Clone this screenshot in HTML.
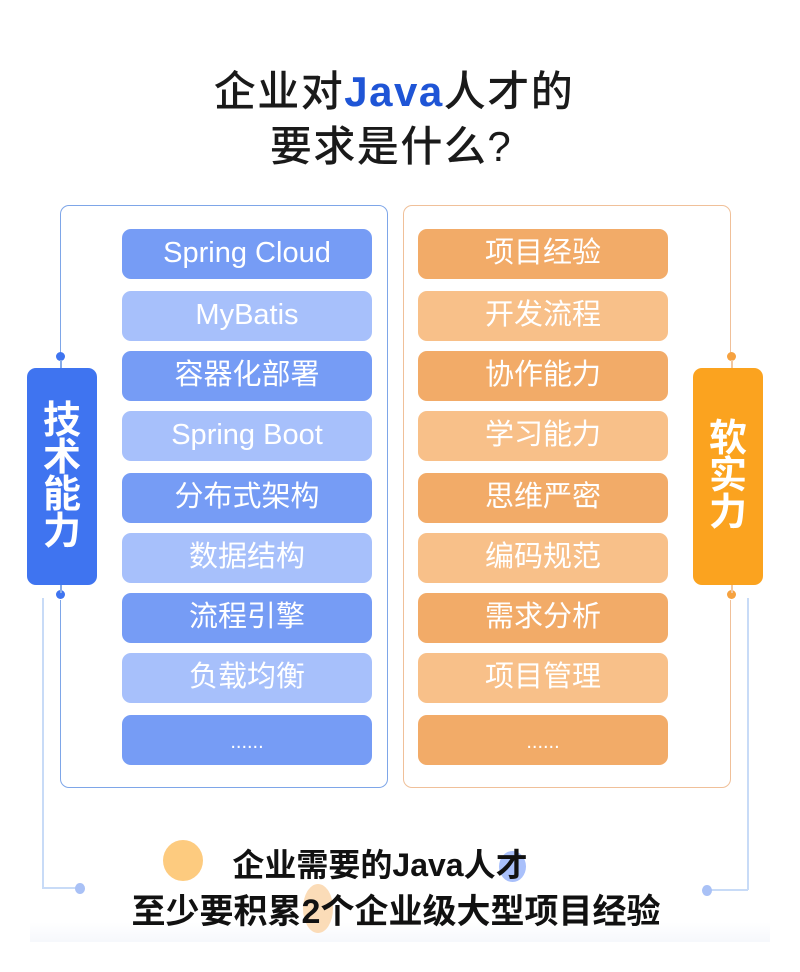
<!DOCTYPE html>
<html><head><meta charset="utf-8"><style>
*{margin:0;padding:0;box-sizing:border-box}
body{width:800px;height:972px;background:#fff;position:relative;overflow:hidden;font-family:"Liberation Sans","Noto Sans CJK SC",sans-serif}
.t{position:absolute;left:0;width:800px;text-align:center;font-size:42px;color:#1a1a1a;font-weight:500;letter-spacing:1.5px}
.box{position:absolute;top:205px;height:583px;width:328px;border:1.5px solid;border-radius:9px}
.p{position:absolute;width:250px;height:50px;border-radius:9px;color:#fff;font-size:29px;text-align:center;line-height:49px}
.lbl{position:absolute;top:368px;width:70px;height:217px;border-radius:9px;color:#fff;font-size:38px;font-weight:bold;text-align:center;display:flex;align-items:center;justify-content:center;line-height:37px}
.dot{position:absolute;width:9px;height:9px;border-radius:50%}
.ln{position:absolute}
.c{position:absolute;border-radius:50%}
</style></head><body>
<div class="t" style="top:58px;left:-6px">企业对<span style="color:#1f55d6;font-weight:bold">Java</span>人才的</div>
<div class="t" style="top:113px;left:-9px">要求是什么?</div>

<div class="box" style="left:60px;border-color:#7ea6e8"></div>
<div class="box" style="left:403px;border-color:#f0c099"></div>

<div class="ln" style="left:42px;top:598px;width:1.5px;height:290px;background:#c8dbf7"></div>
<div class="ln" style="left:42px;top:887px;width:38px;height:1.5px;background:#c8dbf7"></div>
<div class="dot" style="left:75px;top:883px;width:10px;height:11px;background:#a9c1f6"></div>
<div class="ln" style="left:747px;top:598px;width:1.5px;height:292px;background:#c8dbf7"></div>
<div class="ln" style="left:710px;top:889px;width:38px;height:1.5px;background:#c8dbf7"></div>
<div class="dot" style="left:702px;top:885px;width:10px;height:11px;background:#a9c1f6"></div>

<div class="ln" style="left:50px;top:360px;width:20px;height:240px;background:#fff"></div>
<div class="ln" style="left:721px;top:360px;width:20px;height:240px;background:#fff"></div>
<div class="dot" style="left:56px;top:352px;background:#3f74f0"></div>
<div class="dot" style="left:56px;top:590px;background:#3f74f0"></div>
<div class="dot" style="left:727px;top:352px;background:#f6a240"></div>
<div class="dot" style="left:727px;top:590px;background:#f6a240"></div>
<div class="ln" style="left:60px;top:360px;width:1.5px;height:8px;background:#86abe9"></div>
<div class="ln" style="left:60px;top:585px;width:1.5px;height:8px;background:#86abe9"></div>
<div class="ln" style="left:731px;top:360px;width:1.5px;height:8px;background:#f2c7a0"></div>
<div class="ln" style="left:731px;top:585px;width:1.5px;height:8px;background:#f2c7a0"></div>

<div class="lbl" style="left:27px;background:#3f74f0">技<br>术<br>能<br>力</div>
<div class="lbl" style="left:693px;background:#fba31f">软<br>实<br>力</div>

<div class="p" style="left:122px;top:229px;background:#769cf5">Spring Cloud</div>
<div class="p" style="left:122px;top:291px;background:#a7c0fb">MyBatis</div>
<div class="p" style="left:122px;top:351px;background:#769cf5">容器化部署</div>
<div class="p" style="left:122px;top:411px;background:#a7c0fb">Spring Boot</div>
<div class="p" style="left:122px;top:473px;background:#769cf5">分布式架构</div>
<div class="p" style="left:122px;top:533px;background:#a7c0fb">数据结构</div>
<div class="p" style="left:122px;top:593px;background:#769cf5">流程引擎</div>
<div class="p" style="left:122px;top:653px;background:#a7c0fb">负载均衡</div>
<div class="p" style="left:122px;top:715px;background:#769cf5;font-size:20px;line-height:54px">......</div>

<div class="p" style="left:418px;top:229px;background:#f2ab68">项目经验</div>
<div class="p" style="left:418px;top:291px;background:#f8c089">开发流程</div>
<div class="p" style="left:418px;top:351px;background:#f2ab68">协作能力</div>
<div class="p" style="left:418px;top:411px;background:#f8c089">学习能力</div>
<div class="p" style="left:418px;top:473px;background:#f2ab68">思维严密</div>
<div class="p" style="left:418px;top:533px;background:#f8c089">编码规范</div>
<div class="p" style="left:418px;top:593px;background:#f2ab68">需求分析</div>
<div class="p" style="left:418px;top:653px;background:#f8c089">项目管理</div>
<div class="p" style="left:418px;top:715px;background:#f2ab68;font-size:20px;line-height:54px">......</div>

<div class="ln" style="left:30px;top:922px;width:740px;height:20px;background:linear-gradient(#fff,#f6f8fc);"></div>
<div class="c" style="left:163px;top:840px;width:40px;height:41px;background:#fdcb7f"></div>
<div class="c" style="left:499px;top:851px;width:27px;height:31px;background:#a9c0fb"></div>
<div class="c" style="left:303px;top:884px;width:30px;height:49px;background:#fbdcb8"></div>
<div class="t" style="top:840px;font-size:32px;font-weight:bold;left:-20px;color:#111;letter-spacing:0">企业需要的Java人才</div>
<div class="t" style="top:884px;font-size:34px;font-weight:bold;left:-4px;color:#111;letter-spacing:0">至少要积累2个企业级大型项目经验</div>
</body></html>
